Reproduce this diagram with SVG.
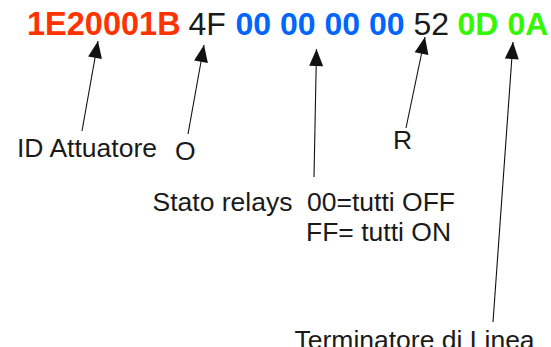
<svg xmlns="http://www.w3.org/2000/svg" width="551" height="347" viewBox="0 0 551 347">
  <defs>
    <marker id="head" markerUnits="userSpaceOnUse" viewBox="-18 -8 19 16" markerWidth="19" markerHeight="16" refX="0" refY="0" orient="auto">
      <path d="M0,0 L-17,-7 L-17,7 Z" fill="#111"/>
    </marker>
    <style>
      .code { font-family: "Liberation Sans", Arial, sans-serif; font-size: 32px; }
      .b { font-weight: bold; }
      .red { fill: #FF3300; font-size: 32.5px; }
      .blue { fill: #0066FF; }
      .green { fill: #33F700; }
      .dark { fill: #1a1a1a; }
      .lbl { font-family: "Liberation Sans", Arial, sans-serif; font-size: 26.5px; fill: #1a1a1a; }
      .arrow { stroke: #111; stroke-width: 1.1; fill: none; marker-end: url(#head); }
    </style>
  </defs>

  <!-- message frame -->
  <g id="frame">
    <text class="code" y="35">
      <tspan class="b red" x="27">1E20001B</tspan>
      <tspan class="dark" x="188.5">4F</tspan>
      <tspan class="b blue" x="235.5">00 00 00 00</tspan>
      <tspan class="dark" x="413.5">52</tspan>
      <tspan class="b green" x="457.5">0D</tspan>
      <tspan class="b green" x="507.5">0A</tspan>
    </text>
  </g>

  <!-- field labels -->
  <g id="label-id"><text class="lbl" x="17" y="157">ID Attuatore</text></g>
  <g id="label-o"><text class="lbl" x="175" y="160">O</text></g>
  <g id="label-r"><text class="lbl" x="393" y="149">R</text></g>
  <g id="label-stato">
    <text class="lbl" x="152.5" y="210.5">Stato relays</text>
    <text class="lbl" x="307" y="210.5">00=tutti OFF</text>
    <text class="lbl" x="306" y="240.5">FF= tutti ON</text>
  </g>
  <g id="label-term"><text class="lbl" x="294.5" y="349">Terminatore di Linea</text></g>

  <!-- pointers from labels to fields -->
  <g id="connectors">
    <line class="arrow" x1="82" y1="131" x2="98" y2="41"/>
    <line class="arrow" x1="188" y1="134" x2="204" y2="45"/>
    <line class="arrow" x1="314" y1="177" x2="316.5" y2="49"/>
    <line class="arrow" x1="406" y1="128" x2="425" y2="37"/>
    <line class="arrow" x1="493" y1="322" x2="513" y2="42"/>
  </g>
</svg>
